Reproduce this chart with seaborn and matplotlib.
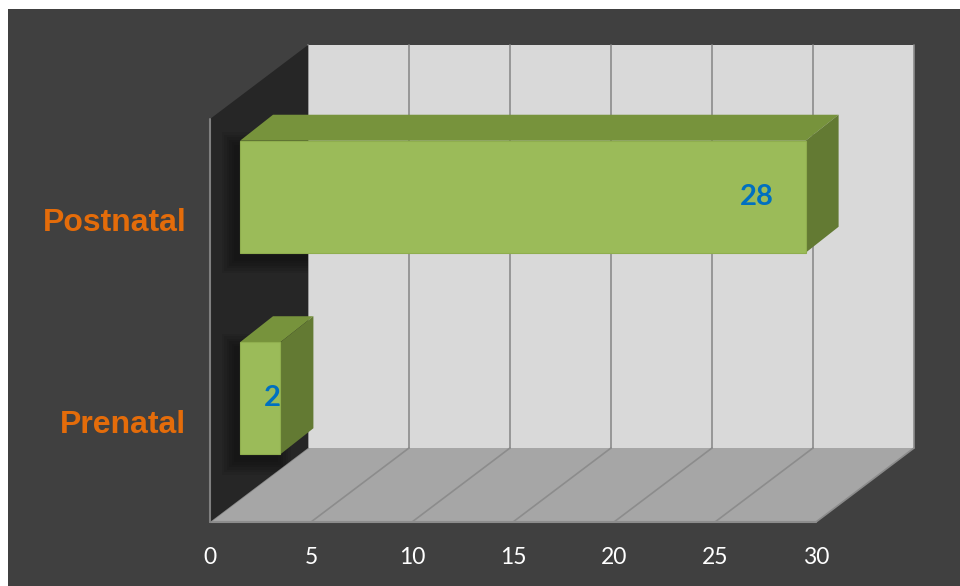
import matplotlib
matplotlib.use('Agg')
import matplotlib.pyplot as plt
import matplotlib.transforms as mtransforms
from matplotlib.patches import Polygon, Rectangle
import numpy as np
import pandas as pd
import seaborn as sns

# dados do grafico
categorias = ['Postnatal', 'Prenatal']
valores = [28, 2]
ticks_x = [0, 5, 10, 15, 20, 25, 30]

# cores
cor_fundo = '#404040'
cor_parede = '#D9D9D9'
cor_lateral = '#262626'
cor_piso = '#A6A6A6'
cor_grade = '#8C8C8C'
cor_frente = '#9BBB59'
cor_topo = '#77933C'
cor_lado = '#637A33'
cor_rotulo = '#E46C0A'
cor_valor = '#0070C0'

sns.set_theme(style='white')
plt.rcParams['font.family'] = ['Lato', 'DejaVu Sans']

fig = plt.figure(figsize=(9.6, 5.86), dpi=100)
fig.patch.set_facecolor('white')
fig.patches.append(Rectangle((8 / 960, 0), 1, 577 / 586, transform=fig.transFigure,
                             facecolor=cor_fundo, edgecolor='none', zorder=-10))

# eixo = plano da frente da caixa 3D
ax = fig.add_axes([210 / 960, 64 / 586, 606 / 960, 403 / 586])
ax.set_facecolor('none')

df = pd.DataFrame({'categoria': categorias, 'valor': valores})
sns.barplot(data=df, x='valor', y='categoria', order=categorias, color=cor_frente,
            saturation=1, width=0.556, ax=ax, zorder=5)
barras = list(ax.patches)
ax.set_xlim(0, 30)
ax.set_ylim(1.5, -0.5)

# profundidade (pixels) da caixa e das barras
PROF = np.array([98, 74])
FRENTE = np.array([30, 23])
PROF_BARRA = np.array([33, 26])
ident = mtransforms.IdentityTransform()


def px(x, y, d=(0, 0)):
    return ax.transData.transform((x, y)) + np.asarray(d)


def poligono(pts, cor, z, **kw):
    p = Polygon(np.array(pts), closed=True, facecolor=cor, edgecolor='none',
                transform=ident, clip_on=False, zorder=z, **kw)
    ax.add_patch(p)
    return p


def linha(p1, p2, cor, z, lw=1.2):
    ax.plot([p1[0], p2[0]], [p1[1], p2[1]], color=cor, lw=lw, transform=ident,
            clip_on=False, zorder=z)


y_top, y_bot = -0.5, 1.5

# parede do fundo
poligono([px(0, y_top, PROF), px(30, y_top, PROF), px(30, y_bot, PROF), px(0, y_bot, PROF)],
         cor_parede, 0)
for t in ticks_x:
    linha(px(t, y_top, PROF), px(t, y_bot, PROF), cor_grade, 0.5)

# piso
poligono([px(0, y_bot), px(30, y_bot), px(30, y_bot, PROF), px(0, y_bot, PROF)], cor_piso, 0)
for t in ticks_x:
    linha(px(t, y_bot), px(t, y_bot, PROF), cor_grade, 0.5)
linha(px(0, y_bot), px(30, y_bot), cor_grade, 0.6, lw=1.5)

# parede lateral
parede_lat = poligono([px(0, y_top), px(0, y_top, PROF), px(0, y_bot, PROF), px(0, y_bot)],
                      cor_lateral, 1)
linha(px(0, y_top), px(0, y_bot), '#7F7F7F', 1.5, lw=1.5)

# barras 3D
desl_frente = mtransforms.ScaledTranslation(FRENTE[0] / 100, FRENTE[1] / 100, fig.dpi_scale_trans)
for b, v in zip(barras, valores):
    x0, x1 = b.get_x(), b.get_x() + b.get_width()
    ya, yb = b.get_y(), b.get_y() + b.get_height()
    if px(0, ya)[1] > px(0, yb)[1]:
        yt, ybb = ya, yb
    else:
        yt, ybb = yb, ya
    # sombra suave na parede lateral
    for k in range(6):
        e = 2 + 2.5 * k
        s = poligono([px(x0, yt, FRENTE + [-4 - e, -6 + e]), px(x1, yt, FRENTE + [-4 + e, -6 + e]),
                      px(x1, ybb, FRENTE + [-4 + e, -6 - e]), px(x0, ybb, FRENTE + [-4 - e, -6 - e])],
                     'black', 2, alpha=0.07)
        s.set_clip_path(parede_lat)
        s.set_clip_on(True)
    b.set_transform(ax.transData + desl_frente)
    b.set_clip_on(False)
    b.set_edgecolor('#8FAE4E')
    b.set_linewidth(0.8)
    poligono([px(x0, yt, FRENTE), px(x1, yt, FRENTE), px(x1, yt, FRENTE + PROF_BARRA),
              px(x0, yt, FRENTE + PROF_BARRA)], cor_topo, 4)
    poligono([px(x1, yt, FRENTE), px(x1, ybb, FRENTE), px(x1, ybb, FRENTE + PROF_BARRA),
              px(x1, yt, FRENTE + PROF_BARRA)], cor_lado, 4)
    # rotulo de valor
    xr = v - 1.6 if v > 5 else v
    ax.text(xr, (yt + ybb) / 2, str(v), ha='right', va='center', color=cor_valor,
            fontsize=21, fontweight='bold', transform=ax.transData + desl_frente,
            zorder=6, clip_on=False)

# eixos
ax.set_xticks(ticks_x)
ax.set_xticklabels([str(t) for t in ticks_x])
ax.tick_params(axis='x', length=0, pad=18, labelcolor='white', labelsize=16.5)
ax.tick_params(axis='y', length=0, pad=17)
for lab in ax.get_yticklabels():
    lab.set_color(cor_rotulo)
    lab.set_fontsize(23)
    lab.set_fontweight('bold')
    lab.set_family(['Liberation Sans', 'DejaVu Sans'])
ax.set_xlabel('')
ax.set_ylabel('')
for sp in ax.spines.values():
    sp.set_visible(False)
ax.grid(False)

fig.savefig('out.png', dpi=100)
